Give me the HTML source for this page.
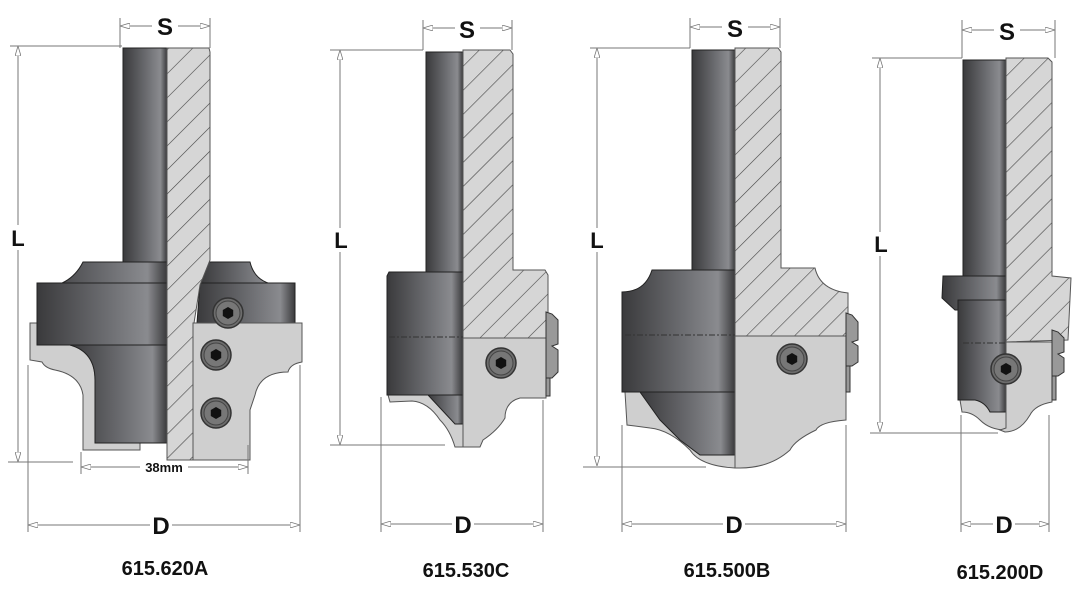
<!DOCTYPE html>
<html><head><meta charset="utf-8"><style>
html,body{margin:0;padding:0;background:#fff;width:1085px;height:600px;overflow:hidden}
svg{display:block}
.dim{stroke:#777;stroke-width:1;fill:none}
.t{font-family:"Liberation Sans",sans-serif;font-weight:bold;fill:#111}
.lab{font-family:"Liberation Sans Narrow","Liberation Sans",sans-serif;font-weight:bold;fill:#111;font-size:20px}
.gray{fill:#cfcfcf;stroke:#555;stroke-width:1}
.dark{fill:url(#dk);stroke:#222;stroke-width:1}
.hat{fill:url(#hp);stroke:#555;stroke-width:1}
</style></head><body>
<svg width="1085" height="600" viewBox="0 0 1085 600" xmlns="http://www.w3.org/2000/svg">
<defs>
<pattern id="hp" patternUnits="userSpaceOnUse" width="17" height="17" patternTransform="rotate(45)">
<rect width="17" height="17" fill="#d6d6d6"/><line x1="0" y1="0" x2="0" y2="17" stroke="#444" stroke-width="1.2"/>
</pattern>
<linearGradient id="dk" x1="0" x2="1" y1="0" y2="0">
<stop offset="0" stop-color="#3a3a3c"/><stop offset="0.55" stop-color="#6d6e72"/><stop offset="0.85" stop-color="#8a8b8f"/><stop offset="1" stop-color="#3a3a3c"/>
</linearGradient>
<symbol id="screw" viewBox="-16 -16 32 32">
<circle r="15" fill="#6c6c6c" stroke="#333" stroke-width="1.5"/>
<circle r="12" fill="#777" stroke="#444" stroke-width="1"/>
<polygon points="0,-6 5.2,-3 5.2,3 0,6 -5.2,3 -5.2,-3" fill="#111"/>
</symbol>
<marker id="ar" viewBox="0 0 10 6" refX="10" refY="3" markerWidth="10" markerHeight="6" orient="auto-start-reverse" markerUnits="userSpaceOnUse">
<path d="M0,0 L10,3 L0,6 z" fill="#fff" stroke="#777" stroke-width="0.8"/>
</marker>
</defs>

<!-- ============ TOOL 1 ============ -->
<rect class="dark" x="123" y="48" width="44" height="214"/>
<path class="dark" d="M83,262 L167,262 L167,283 L37,283 L37,288 Q70,288 83,262z"/>
<path class="dark" d="M208,262 L250,262 Q255,283 278,285 L200,285z"/>
<path class="gray" d="M30,323 L37,323 L37,345 L70,345 Q95,350 95,380 L95,443 L140,443 L140,450 L83,450 L83,395 Q80,375 55,370 Q45,368 42,362 L30,360z"/>
<rect class="dark" x="37" y="283" width="130" height="62"/>
<path class="dark" d="M70,345 L167,345 L167,443 L95,443 L95,380 Q95,352 70,345z"/>
<path class="dark" d="M200,283 L295,283 L295,323 L197,323z"/>
<path class="hat" d="M167,48 L209,48 L210,52 L210,260 L200,285 L194,323 L193,460 L167,460z"/>
<path class="gray" d="M193,323 L302,323 L302,362 Q290,364 288,372 Q260,372 255,395 L250,410 L250,460 L193,460z"/>
<use href="#screw" x="212" y="297" width="32" height="32"/>
<use href="#screw" x="200" y="339" width="32" height="32"/>
<use href="#screw" x="200" y="397" width="32" height="32"/>
<line class="dim" x1="120" y1="18" x2="120" y2="48"/><line class="dim" x1="210" y1="18" x2="210" y2="48"/>
<line class="dim" x1="120" y1="26" x2="152" y2="26" marker-start="url(#ar)"/><line class="dim" x1="178" y1="26" x2="210" y2="26" marker-end="url(#ar)"/>
<text class="t" x="165" y="35" font-size="24" text-anchor="middle">S</text>
<line class="dim" x1="10" y1="46" x2="122" y2="46"/><line class="dim" x1="8" y1="462" x2="73" y2="462"/>
<line class="dim" x1="18" y1="46" x2="18" y2="225" marker-start="url(#ar)"/><line class="dim" x1="18" y1="250" x2="18" y2="462" marker-end="url(#ar)"/>
<text class="t" x="18" y="246" font-size="22" text-anchor="middle">L</text>
<line class="dim" x1="81" y1="452" x2="81" y2="474"/><line class="dim" x1="248" y1="445" x2="248" y2="474"/>
<line class="dim" x1="81" y1="467" x2="140" y2="467" marker-start="url(#ar)"/><line class="dim" x1="188" y1="467" x2="248" y2="467" marker-end="url(#ar)"/>
<text class="t" x="164" y="472" font-size="13" text-anchor="middle">38mm</text>
<line class="dim" x1="28" y1="365" x2="28" y2="532"/><line class="dim" x1="300" y1="365" x2="300" y2="532"/>
<line class="dim" x1="28" y1="525" x2="150" y2="525" marker-start="url(#ar)"/><line class="dim" x1="172" y1="525" x2="300" y2="525" marker-end="url(#ar)"/>
<text class="t" x="161" y="534" font-size="24" text-anchor="middle">D</text>
<text class="lab" x="165" y="575" text-anchor="middle">615.620A</text>

<!-- ============ TOOL 2 ============ -->
<rect class="dark" x="426" y="52" width="37" height="222"/>
<path class="gray" d="M388,395 L463,395 L463,447 L455,447 Q450,430 440,420 Q428,402 412,401 L390,402z"/>
<path class="dark" d="M389,272 L463,272 L463,395 L387,395 L387,276z"/>
<path class="dark" d="M428,395 L463,395 L463,424 L455,424z"/>
<path class="hat" d="M463,50 L510,50 L513,54 L513,270 L545,270 L548,275 L548,338 L463,338z"/>
<path class="gray" d="M463,338 L546,338 L546,398 L520,398 Q505,402 505,418 Q498,430 483,440 L480,447 L463,447z"/>
<line x1="389" y1="337" x2="463" y2="337" stroke="#333" stroke-dasharray="6,2,2,2"/>
<path d="M546,312 L552,314 L558,320 L558,344 L552,346 L558,350 L558,372 L552,378 L546,378z" fill="#999" stroke="#333"/>
<rect x="546" y="378" width="4" height="18" fill="#999" stroke="#333"/>
<use href="#screw" x="485" y="347" width="32" height="32"/>
<line class="dim" x1="423" y1="20" x2="423" y2="50"/><line class="dim" x1="512" y1="20" x2="512" y2="50"/>
<line class="dim" x1="423" y1="28" x2="455" y2="28" marker-start="url(#ar)"/><line class="dim" x1="480" y1="28" x2="512" y2="28" marker-end="url(#ar)"/>
<text class="t" x="467" y="38" font-size="24" text-anchor="middle">S</text>
<line class="dim" x1="330" y1="50" x2="423" y2="50"/><line class="dim" x1="330" y1="445" x2="445" y2="445"/>
<line class="dim" x1="340" y1="50" x2="340" y2="228" marker-start="url(#ar)"/><line class="dim" x1="340" y1="252" x2="340" y2="445" marker-end="url(#ar)"/>
<text class="t" x="341" y="248" font-size="22" text-anchor="middle">L</text>
<line class="dim" x1="381" y1="397" x2="381" y2="532"/><line class="dim" x1="543" y1="400" x2="543" y2="532"/>
<line class="dim" x1="381" y1="524" x2="452" y2="524" marker-start="url(#ar)"/><line class="dim" x1="474" y1="524" x2="543" y2="524" marker-end="url(#ar)"/>
<text class="t" x="463" y="533" font-size="24" text-anchor="middle">D</text>
<text class="lab" x="466" y="577" text-anchor="middle">615.530C</text>

<!-- ============ TOOL 3 ============ -->
<rect class="dark" x="692" y="50" width="43" height="222"/>
<path class="gray" d="M625,392 L735,392 L735,468 Q700,466 690,450 Q670,430 650,428 L627,425z"/>
<path class="dark" d="M652,270 L735,270 L735,392 L622,392 L622,292 Q645,292 652,270z"/>
<path class="dark" d="M640,392 L735,392 L735,455 L700,455 L680,440 L660,420z"/>
<path class="hat" d="M735,48 L778,48 L781,52 L781,268 L815,268 Q820,290 848,293 L848,336 L735,336z"/>
<path class="gray" d="M735,336 L846,336 L846,420 Q820,422 816,430 Q795,440 790,450 Q770,468 740,468 L735,468z"/>
<line x1="625" y1="335" x2="735" y2="335" stroke="#333" stroke-dasharray="6,2,2,2"/>
<path d="M846,313 L852,315 L858,322 L858,340 L852,342 L858,346 L858,362 L852,366 L846,366z" fill="#999" stroke="#333"/>
<rect x="846" y="366" width="4" height="26" fill="#999" stroke="#333"/>
<use href="#screw" x="776" y="343" width="32" height="32"/>
<line class="dim" x1="690" y1="18" x2="690" y2="48"/><line class="dim" x1="780" y1="18" x2="780" y2="48"/>
<line class="dim" x1="690" y1="27" x2="722" y2="27" marker-start="url(#ar)"/><line class="dim" x1="748" y1="27" x2="780" y2="27" marker-end="url(#ar)"/>
<text class="t" x="735" y="37" font-size="24" text-anchor="middle">S</text>
<line class="dim" x1="590" y1="48" x2="690" y2="48"/><line class="dim" x1="583" y1="467" x2="706" y2="467"/>
<line class="dim" x1="597" y1="48" x2="597" y2="228" marker-start="url(#ar)"/><line class="dim" x1="597" y1="252" x2="597" y2="466" marker-end="url(#ar)"/>
<text class="t" x="597" y="248" font-size="22" text-anchor="middle">L</text>
<line class="dim" x1="622" y1="425" x2="622" y2="532"/><line class="dim" x1="846" y1="425" x2="846" y2="532"/>
<line class="dim" x1="622" y1="524" x2="723" y2="524" marker-start="url(#ar)"/><line class="dim" x1="745" y1="524" x2="846" y2="524" marker-end="url(#ar)"/>
<text class="t" x="734" y="533" font-size="24" text-anchor="middle">D</text>
<text class="lab" x="727" y="577" text-anchor="middle">615.500B</text>

<!-- ============ TOOL 4 ============ -->
<rect class="dark" x="963" y="60" width="43" height="218"/>
<path class="gray" d="M960,400 L1006,400 L1006,430 Q990,430 980,420 Q972,412 962,412z"/>
<path class="dark" d="M943,276 L1006,276 L1006,310 L955,310 L942,298z"/>
<path class="dark" d="M958,300 L1006,300 L1006,412 L990,412 Q985,402 975,400 L958,400z"/>
<path class="hat" d="M1006,58 L1048,58 L1052,62 L1052,276 L1071,278 L1068,340 L1006,342z"/>
<path class="gray" d="M1006,342 L1052,342 L1052,402 Q1035,405 1030,415 Q1020,432 1005,432 L1000,430 L1006,428z"/>
<line x1="963" y1="343" x2="1006" y2="343" stroke="#333" stroke-dasharray="6,2,2,2"/>
<path d="M1052,330 L1058,332 L1064,338 L1064,352 L1058,354 L1064,358 L1064,372 L1058,376 L1052,376z" fill="#999" stroke="#333"/>
<rect x="1052" y="376" width="4" height="24" fill="#999" stroke="#333"/>
<use href="#screw" x="990" y="353" width="32" height="32"/>
<line class="dim" x1="962" y1="20" x2="962" y2="58"/><line class="dim" x1="1055" y1="20" x2="1055" y2="58"/>
<line class="dim" x1="962" y1="30" x2="994" y2="30" marker-start="url(#ar)"/><line class="dim" x1="1020" y1="30" x2="1055" y2="30" marker-end="url(#ar)"/>
<text class="t" x="1007" y="40" font-size="24" text-anchor="middle">S</text>
<line class="dim" x1="872" y1="58" x2="962" y2="58"/><line class="dim" x1="870" y1="433" x2="998" y2="433"/>
<line class="dim" x1="880" y1="58" x2="880" y2="232" marker-start="url(#ar)"/><line class="dim" x1="880" y1="256" x2="880" y2="432" marker-end="url(#ar)"/>
<text class="t" x="881" y="252" font-size="22" text-anchor="middle">L</text>
<line class="dim" x1="961" y1="415" x2="961" y2="532"/><line class="dim" x1="1049" y1="415" x2="1049" y2="532"/>
<line class="dim" x1="961" y1="524" x2="993" y2="524" marker-start="url(#ar)"/><line class="dim" x1="1015" y1="524" x2="1049" y2="524" marker-end="url(#ar)"/>
<text class="t" x="1004" y="533" font-size="24" text-anchor="middle">D</text>
<text class="lab" x="1000" y="579" text-anchor="middle">615.200D</text>
</svg>
</body></html>
